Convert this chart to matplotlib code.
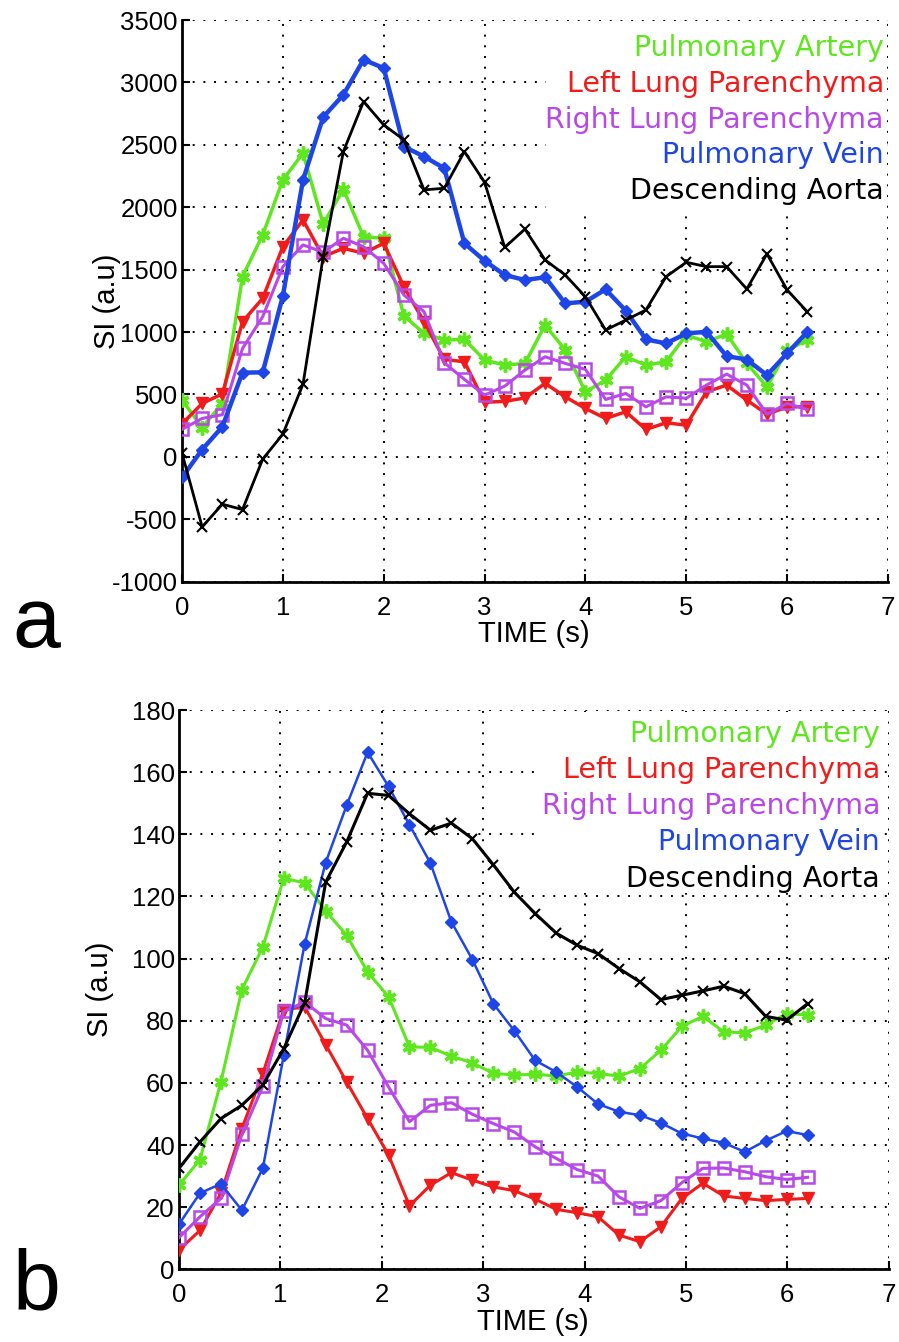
import numpy as np
import matplotlib
matplotlib.use("Agg")
import matplotlib.pyplot as plt
from matplotlib.patches import Rectangle

plt.rcParams["axes.unicode_minus"] = False

# ---------------- data ----------------
time_a = np.arange(32) * 0.2
time_b = np.linspace(0, 6.2, 31)

labels = ["Pulmonary Artery", "Left Lung Parenchyma", "Right Lung Parenchyma",
          "Pulmonary Vein", "Descending Aorta"]

artery_a = [455, 235, 430, 1444, 1778, 2219, 2433, 1866, 2144, 1764, 1751, 1130,
            990, 936, 941, 776, 735, 749, 1056, 856, 521, 615, 802, 735, 762, 976,
            922, 984, 749, 561, 856, 936]
left_a = [265, 428, 505, 1083, 1270, 1684, 1898, 1604, 1671, 1631, 1711, 1363,
          1083, 781, 762, 437, 445, 472, 589, 481, 388, 308, 361, 220, 273, 254,
          521, 575, 455, 342, 401, 401]
right_a = [221, 308, 338, 869, 1123, 1524, 1698, 1640, 1751, 1684, 1551, 1297,
           1163, 754, 621, 495, 567, 695, 802, 749, 701, 460, 508, 401, 481, 470,
           575, 663, 575, 342, 428, 380]
vein_a = [-165, 59, 241, 675, 677, 1289, 2219, 2722, 2901, 3182, 3115, 2486,
          2406, 2313, 1711, 1571, 1457, 1417, 1439, 1230, 1243, 1342, 1171, 941,
          909, 989, 1002, 807, 780, 655, 829, 1002]
aorta_a = [30, -561, -379, -422, -18, 182, 583, 1604, 2446, 2847, 2660, 2540,
           2139, 2152, 2446, 2200, 1678, 1825, 1578, 1457, 1283, 1016, 1096, 1177,
           1444, 1559, 1524, 1524, 1345, 1626, 1337, 1163]

artery_b = [27.1, 35.3, 60.3, 90, 103.7, 125.9, 124.3, 115.3, 107.5, 95.7, 87.7,
            71.6, 71.4, 68.6, 66.4, 63.1, 62.5, 62.8, 62.2, 63.5, 63, 62.2, 64.6,
            70.5, 78.2, 81.4, 76.4, 76.1, 78.6, 82.3, 81.8]
left_b = [6.2, 12.5, 24.4, 45.3, 63, 83.6, 84.4, 72.3, 60.3, 48.5, 36.8, 20.4,
          27.1, 31.1, 28.7, 26.5, 25.3, 22.6, 19.3, 18.2, 16.9, 11.0, 8.9, 13.7,
          22.8, 27.7, 23.6, 22.8, 22.1, 22.5, 22.8]
right_b = [10.2, 16.9, 22.8, 43.4, 58.9, 83, 86, 80.7, 78.6, 70.5, 58.7, 47.5,
           52.8, 53.6, 49.9, 46.9, 44.2, 39.4, 35.7, 32.1, 30, 23.3, 19.6, 22.1,
           27.9, 32.5, 32.6, 31.4, 29.8, 28.9, 29.6]
vein_b = [14.5, 24.5, 27.5, 19, 32.5, 68.9, 104.8, 130.9, 149.3, 166.4, 155.4,
          143, 130.7, 111.8, 99.7, 85.5, 76.8, 67.2, 63.5, 58.7, 53.2, 50.7, 49.6,
          47.1, 43.7, 42.1, 40.7, 37.8, 41.4, 44.5, 43.2]
aorta_b = [32.5, 41, 48.5, 52.8, 59.3, 71, 85.8, 124.6, 137.5, 153.2, 152.5,
           146.6, 141.3, 143.6, 138.6, 130.2, 121.4, 114.5, 108.2, 104.3, 101.6,
           96.8, 92.5, 86.8, 88.2, 89.6, 91.1, 88.7, 81.4, 80.2, 85.5]

yticks_a = np.arange(-1000, 3501, 500)
yticks_b = np.arange(0, 181, 20)
xticks = np.arange(0, 8, 1)

colors = ["#5ee61e", "#f01c1c", "#b848e8", "#1e46e6", "#000000"]

# ---------------- figure ----------------
W, H = 899, 1342
fig = plt.figure(figsize=(W / 100, H / 100), dpi=100)
TICKFONT = "Liberation Sans"


def style_axes(ax, ylim, yticks):
    ax.set_xlim(0, 7)
    ax.set_ylim(*ylim)
    ax.set_xticks(xticks)
    ax.set_yticks(yticks)
    for s in ("top", "right"):
        ax.spines[s].set_visible(False)
    for s in ("left", "bottom"):
        ax.spines[s].set_linewidth(2.0)
    ax.grid(True, color="black", linestyle=(0, (1, 4.5)), linewidth=1.4)
    ax.set_axisbelow(True)
    ax.tick_params(direction="in", length=6, width=1.5, labelsize=18.5)
    ax.tick_params(axis="x", pad=10)
    ax.tick_params(axis="y", pad=3)
    for lab in ax.get_xticklabels() + ax.get_yticklabels():
        lab.set_fontfamily(TICKFONT)


def legend_block(ax, x_right, baselines, box):
    ax.add_patch(Rectangle((box[0], box[1]), box[2] - box[0], box[3] - box[1],
                           transform=ax.transAxes, facecolor="white",
                           edgecolor="none", zorder=20, clip_on=False))
    for lab, c, yb in zip(labels, colors, baselines):
        ax.text(x_right, yb, lab, color=c, ha="right", va="baseline",
                fontsize=20.5, family="DejaVu Sans", transform=ax.transAxes,
                zorder=21)


def axis_labels(ax, ylab_x, xlab_y):
    ax.text(ylab_x, 0.5, "SI (a.u)", rotation=90, ha="center", va="center",
            fontsize=21, family=TICKFONT, transform=ax.transAxes)
    ax.text(0.498, xlab_y, "TIME (s)", ha="center", va="center",
            fontsize=21, family=TICKFONT, transform=ax.transAxes)


# ---------------- panel a ----------------
ax_a = fig.add_axes([182 / W, 1 - 581.7 / H, 706 / W, 561.7 / H])
series_a = [artery_a, left_a, right_a, vein_a, aorta_a]
style_a = [
    dict(marker=(6, 2, 0), ms=10, mew=2.5, lw=2.5),
    dict(marker="v", ms=8, lw=2.5),
    dict(marker="s", ms=9, mfc="none", mew=1.8, lw=2.2),
    dict(marker="D", ms=6.5, lw=3.2),
    dict(marker="x", ms=7, mew=1.5, lw=2.0),
]
order = [4, 0, 2, 1, 3]
for k in order:
    ax_a.plot(time_a, series_a[k], color=colors[k], zorder=3 + k, **style_a[k])
style_axes(ax_a, (-1000, 3500), yticks_a)
legend_block(ax_a, 0.9943, [0.9359, 0.8722, 0.8086, 0.7449, 0.681],
             (0.515, 0.666, 0.994, 0.996))
axis_labels(ax_a, -0.106, -0.093)

# ---------------- panel b ----------------
ax_b = fig.add_axes([179 / W, 1 - 1269.3 / H, 709.7 / W, 559.3 / H])
series_b = [artery_b, left_b, right_b, vein_b, aorta_b]
style_b = [
    dict(marker=(6, 2, 0), ms=10, mew=2.5, lw=2.2),
    dict(marker="v", ms=8, lw=2.2),
    dict(marker="s", ms=9, mfc="none", mew=1.8, lw=2.2),
    dict(marker="D", ms=6.5, lw=1.8),
    dict(marker="x", ms=7, mew=1.5, lw=2.2),
]
for k in [0, 2, 1, 3, 4]:
    ax_b.plot(time_b, series_b[k], color=colors[k], zorder=3 + k, **style_b[k])
style_axes(ax_b, (0, 180), yticks_b)
legend_block(ax_b, 0.9878, [0.9428, 0.8785, 0.814, 0.7488, 0.684],
             (0.504, 0.673, 0.991, 0.996))
axis_labels(ax_b, -0.111, -0.094)

# ---------------- panel letters ----------------
fig.text(12 / W, 1 - 647 / H, "a", fontsize=62, family=TICKFONT, va="baseline")
fig.text(12 / W, 1 - 1309 / H, "b", fontsize=62, family=TICKFONT, va="baseline")

fig.savefig("out.png", dpi=100)
